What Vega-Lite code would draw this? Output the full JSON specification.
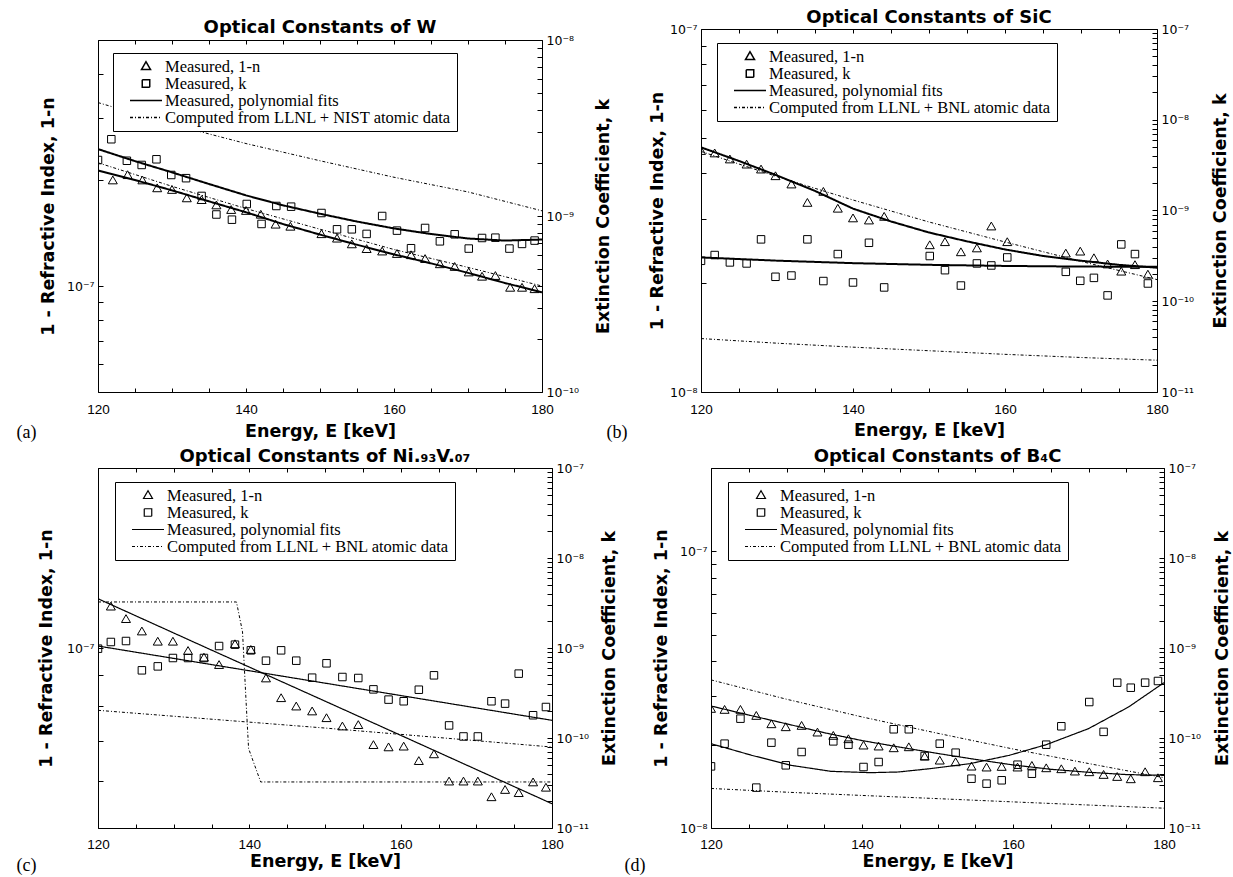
{
"$schema": "https://vega.github.io/schema/vega-lite/v6.json",
"autosize": "none",
"padding": {"left": 98, "top": 29, "right": 1135, "bottom": 848},
"background": "white",
"config": {
  "view": {"stroke": null},
  "font": "Liberation Sans",
  "axis": {"grid": false, "domainColor": "black", "domainWidth": 1, "tickColor": "black", "tickWidth": 1, "tickSize": -5, "labelColor": "black", "labelFont": "Liberation Sans", "labelFontSize": 13.5, "labelPadding": 9, "titleColor": "black", "titleFont": "DejaVu Sans", "titleFontSize": 17.5, "titleFontWeight": "bold", "labelFlush": false, "labelOverlap": false},
  "axisY": {"labelFont": "DejaVu Sans", "labelFontSize": 12.5},
  "title": {"font": "DejaVu Sans", "fontSize": 18, "fontWeight": "bold", "color": "black", "frame": "group", "anchor": "middle"}
},
"datasets": {
"W": [
{"E":122,"v":1.99e-7,"s":"p1","q":"n"},{"E":124,"v":2.06e-7,"s":"p1","q":"n"},{"E":126,"v":1.99e-7,"s":"p1","q":"n"},{"E":128,"v":1.89e-7,"s":"p1","q":"n"},{"E":130,"v":1.87e-7,"s":"p1","q":"n"},{"E":132,"v":1.77e-7,"s":"p1","q":"n"},{"E":134,"v":1.75e-7,"s":"p1","q":"n"},{"E":136,"v":1.69e-7,"s":"p1","q":"n"},{"E":138,"v":1.64e-7,"s":"p1","q":"n"},{"E":140,"v":1.63e-7,"s":"p1","q":"n"},{"E":142,"v":1.59e-7,"s":"p1","q":"n"},{"E":144,"v":1.49e-7,"s":"p1","q":"n"},{"E":146,"v":1.47e-7,"s":"p1","q":"n"},{"E":150.2,"v":1.40e-7,"s":"p1","q":"n"},{"E":152.3,"v":1.36e-7,"s":"p1","q":"n"},{"E":154.3,"v":1.31e-7,"s":"p1","q":"n"},{"E":156.3,"v":1.27e-7,"s":"p1","q":"n"},{"E":158.4,"v":1.25e-7,"s":"p1","q":"n"},{"E":160.4,"v":1.23e-7,"s":"p1","q":"n"},{"E":162.3,"v":1.22e-7,"s":"p1","q":"n"},{"E":164.2,"v":1.19e-7,"s":"p1","q":"n"},{"E":166.2,"v":1.15e-7,"s":"p1","q":"n"},{"E":168.2,"v":1.13e-7,"s":"p1","q":"n"},{"E":170.1,"v":1.09e-7,"s":"p1","q":"n"},{"E":171.9,"v":1.06e-7,"s":"p1","q":"n"},{"E":173.7,"v":1.065e-7,"s":"p1","q":"n"},{"E":175.7,"v":9.86e-8,"s":"p1","q":"n"},{"E":177.3,"v":9.86e-8,"s":"p1","q":"n"},{"E":179,"v":9.77e-8,"s":"p1","q":"n"},
{"E":120,"v":2.08e-9,"s":"p2","q":"k"},{"E":121.8,"v":2.73e-9,"s":"p2","q":"k"},{"E":123.9,"v":2.06e-9,"s":"p2","q":"k"},{"E":125.9,"v":1.95e-9,"s":"p2","q":"k"},{"E":127.9,"v":2.10e-9,"s":"p2","q":"k"},{"E":129.9,"v":1.71e-9,"s":"p2","q":"k"},{"E":131.9,"v":1.64e-9,"s":"p2","q":"k"},{"E":134,"v":1.30e-9,"s":"p2","q":"k"},{"E":136,"v":1.02e-9,"s":"p2","q":"k"},{"E":138.1,"v":9.53e-10,"s":"p2","q":"k"},{"E":140.1,"v":1.17e-9,"s":"p2","q":"k"},{"E":142.1,"v":9.01e-10,"s":"p2","q":"k"},{"E":144.1,"v":1.14e-9,"s":"p2","q":"k"},{"E":146.1,"v":1.13e-9,"s":"p2","q":"k"},{"E":150.2,"v":1.04e-9,"s":"p2","q":"k"},{"E":152.3,"v":8.40e-10,"s":"p2","q":"k"},{"E":154.3,"v":8.40e-10,"s":"p2","q":"k"},{"E":156.3,"v":7.91e-10,"s":"p2","q":"k"},{"E":158.4,"v":1.00e-9,"s":"p2","q":"k"},{"E":160.4,"v":8.26e-10,"s":"p2","q":"k"},{"E":162.3,"v":6.56e-10,"s":"p2","q":"k"},{"E":164.2,"v":8.55e-10,"s":"p2","q":"k"},{"E":166.2,"v":7.18e-10,"s":"p2","q":"k"},{"E":168.2,"v":7.87e-10,"s":"p2","q":"k"},{"E":170.1,"v":6.53e-10,"s":"p2","q":"k"},{"E":171.9,"v":7.50e-10,"s":"p2","q":"k"},{"E":173.7,"v":7.53e-10,"s":"p2","q":"k"},{"E":175.6,"v":6.53e-10,"s":"p2","q":"k"},{"E":177.3,"v":6.94e-10,"s":"p2","q":"k"},{"E":179,"v":7.25e-10,"s":"p2","q":"k"},
{"E":120,"v":2.13e-7,"s":"f","q":"n"},{"E":125,"v":2.0e-7,"s":"f","q":"n"},{"E":130,"v":1.87e-7,"s":"f","q":"n"},{"E":135,"v":1.74e-7,"s":"f","q":"n"},{"E":140,"v":1.62e-7,"s":"f","q":"n"},{"E":145,"v":1.5e-7,"s":"f","q":"n"},{"E":150,"v":1.4e-7,"s":"f","q":"n"},{"E":155,"v":1.31e-7,"s":"f","q":"n"},{"E":160,"v":1.23e-7,"s":"f","q":"n"},{"E":165,"v":1.16e-7,"s":"f","q":"n"},{"E":170,"v":1.09e-7,"s":"f","q":"n"},{"E":175,"v":1.02e-7,"s":"f","q":"n"},{"E":180,"v":9.6e-8,"s":"f","q":"n"},
{"E":120,"v":2.24e-7,"s":"c","q":"n"},{"E":130,"v":1.92e-7,"s":"c","q":"n"},{"E":140,"v":1.66e-7,"s":"c","q":"n"},{"E":150,"v":1.45e-7,"s":"c","q":"n"},{"E":160,"v":1.27e-7,"s":"c","q":"n"},{"E":170,"v":1.13e-7,"s":"c","q":"n"},{"E":180,"v":1.0e-7,"s":"c","q":"n"},
{"E":120,"v":2.4e-9,"s":"f","q":"k"},{"E":125,"v":2.05e-9,"s":"f","q":"k"},{"E":130,"v":1.77e-9,"s":"f","q":"k"},{"E":135,"v":1.52e-9,"s":"f","q":"k"},{"E":140,"v":1.31e-9,"s":"f","q":"k"},{"E":145,"v":1.15e-9,"s":"f","q":"k"},{"E":150,"v":1.03e-9,"s":"f","q":"k"},{"E":155,"v":9.3e-10,"s":"f","q":"k"},{"E":160,"v":8.5e-10,"s":"f","q":"k"},{"E":165,"v":7.9e-10,"s":"f","q":"k"},{"E":170,"v":7.45e-10,"s":"f","q":"k"},{"E":175,"v":7.25e-10,"s":"f","q":"k"},{"E":180,"v":7.35e-10,"s":"f","q":"k"},
{"E":120,"v":4.41e-9,"s":"c","q":"k"},{"E":130,"v":3.32e-9,"s":"c","q":"k"},{"E":140,"v":2.58e-9,"s":"c","q":"k"},{"E":150,"v":2.06e-9,"s":"c","q":"k"},{"E":160,"v":1.66e-9,"s":"c","q":"k"},{"E":170,"v":1.37e-9,"s":"c","q":"k"},{"E":180,"v":1.07e-9,"s":"c","q":"k"}
],
"SiC": [
{"E":120,"v":4.60e-8,"s":"p1","q":"n"},{"E":121.8,"v":4.53e-8,"s":"p1","q":"n"},{"E":123.8,"v":4.36e-8,"s":"p1","q":"n"},{"E":126,"v":4.22e-8,"s":"p1","q":"n"},{"E":127.9,"v":4.09e-8,"s":"p1","q":"n"},{"E":129.8,"v":3.92e-8,"s":"p1","q":"n"},{"E":131.9,"v":3.72e-8,"s":"p1","q":"n"},{"E":134,"v":3.31e-8,"s":"p1","q":"n"},{"E":136.1,"v":3.55e-8,"s":"p1","q":"n"},{"E":138,"v":3.19e-8,"s":"p1","q":"n"},{"E":140,"v":3.00e-8,"s":"p1","q":"n"},{"E":142.1,"v":2.96e-8,"s":"p1","q":"n"},{"E":144.1,"v":3.03e-8,"s":"p1","q":"n"},{"E":150.1,"v":2.53e-8,"s":"p1","q":"n"},{"E":152.1,"v":2.58e-8,"s":"p1","q":"n"},{"E":154.2,"v":2.42e-8,"s":"p1","q":"n"},{"E":156.3,"v":2.48e-8,"s":"p1","q":"n"},{"E":158.2,"v":2.85e-8,"s":"p1","q":"n"},{"E":160.3,"v":2.58e-8,"s":"p1","q":"n"},{"E":168,"v":2.40e-8,"s":"p1","q":"n"},{"E":169.9,"v":2.43e-8,"s":"p1","q":"n"},{"E":171.7,"v":2.33e-8,"s":"p1","q":"n"},{"E":173.5,"v":2.24e-8,"s":"p1","q":"n"},{"E":175.3,"v":2.14e-8,"s":"p1","q":"n"},{"E":177.1,"v":2.23e-8,"s":"p1","q":"n"},{"E":178.8,"v":2.10e-8,"s":"p1","q":"n"},
{"E":120,"v":2.79e-10,"s":"p2","q":"k"},{"E":121.8,"v":3.23e-10,"s":"p2","q":"k"},{"E":123.8,"v":2.68e-10,"s":"p2","q":"k"},{"E":126,"v":2.61e-10,"s":"p2","q":"k"},{"E":127.9,"v":4.81e-10,"s":"p2","q":"k"},{"E":129.8,"v":1.86e-10,"s":"p2","q":"k"},{"E":131.9,"v":1.92e-10,"s":"p2","q":"k"},{"E":134,"v":4.81e-10,"s":"p2","q":"k"},{"E":136.1,"v":1.67e-10,"s":"p2","q":"k"},{"E":138,"v":3.31e-10,"s":"p2","q":"k"},{"E":140,"v":1.61e-10,"s":"p2","q":"k"},{"E":142.1,"v":4.41e-10,"s":"p2","q":"k"},{"E":144.1,"v":1.42e-10,"s":"p2","q":"k"},{"E":150.1,"v":3.15e-10,"s":"p2","q":"k"},{"E":152.1,"v":2.20e-10,"s":"p2","q":"k"},{"E":154.2,"v":1.49e-10,"s":"p2","q":"k"},{"E":156.3,"v":2.61e-10,"s":"p2","q":"k"},{"E":158.2,"v":2.48e-10,"s":"p2","q":"k"},{"E":160.3,"v":3.04e-10,"s":"p2","q":"k"},{"E":168,"v":2.11e-10,"s":"p2","q":"k"},{"E":169.9,"v":1.68e-10,"s":"p2","q":"k"},{"E":171.7,"v":1.81e-10,"s":"p2","q":"k"},{"E":173.5,"v":1.16e-10,"s":"p2","q":"k"},{"E":175.3,"v":4.23e-10,"s":"p2","q":"k"},{"E":177.1,"v":3.31e-10,"s":"p2","q":"k"},{"E":178.8,"v":1.57e-10,"s":"p2","q":"k"},
{"E":120,"v":4.72e-8,"s":"f","q":"n"},{"E":125,"v":4.33e-8,"s":"f","q":"n"},{"E":130,"v":3.95e-8,"s":"f","q":"n"},{"E":135,"v":3.58e-8,"s":"f","q":"n"},{"E":140,"v":3.2e-8,"s":"f","q":"n"},{"E":145,"v":2.95e-8,"s":"f","q":"n"},{"E":150,"v":2.75e-8,"s":"f","q":"n"},{"E":155,"v":2.6e-8,"s":"f","q":"n"},{"E":160,"v":2.47e-8,"s":"f","q":"n"},{"E":165,"v":2.37e-8,"s":"f","q":"n"},{"E":170,"v":2.3e-8,"s":"f","q":"n"},{"E":175,"v":2.24e-8,"s":"f","q":"n"},{"E":180,"v":2.2e-8,"s":"f","q":"n"},
{"E":120,"v":4.6e-8,"s":"c","q":"n"},{"E":130,"v":3.92e-8,"s":"c","q":"n"},{"E":140,"v":3.38e-8,"s":"c","q":"n"},{"E":150,"v":2.94e-8,"s":"c","q":"n"},{"E":160,"v":2.59e-8,"s":"c","q":"n"},{"E":170,"v":2.29e-8,"s":"c","q":"n"},{"E":180,"v":2.04e-8,"s":"c","q":"n"},
{"E":120,"v":3.04e-10,"s":"f","q":"k"},{"E":130,"v":2.8e-10,"s":"f","q":"k"},{"E":140,"v":2.63e-10,"s":"f","q":"k"},{"E":150,"v":2.52e-10,"s":"f","q":"k"},{"E":160,"v":2.45e-10,"s":"f","q":"k"},{"E":170,"v":2.41e-10,"s":"f","q":"k"},{"E":180,"v":2.4e-10,"s":"f","q":"k"},
{"E":120,"v":3.88e-11,"s":"c","q":"k"},{"E":130,"v":3.45e-11,"s":"c","q":"k"},{"E":140,"v":3.12e-11,"s":"c","q":"k"},{"E":150,"v":2.85e-11,"s":"c","q":"k"},{"E":160,"v":2.6e-11,"s":"c","q":"k"},{"E":170,"v":2.4e-11,"s":"c","q":"k"},{"E":180,"v":2.24e-11,"s":"c","q":"k"}
],
"NiV": [
{"E":121.7,"v":1.171e-7,"s":"p1","q":"n"},{"E":123.7,"v":1.116e-7,"s":"p1","q":"n"},{"E":125.8,"v":1.064e-7,"s":"p1","q":"n"},{"E":127.9,"v":1.023e-7,"s":"p1","q":"n"},{"E":129.9,"v":1.023e-7,"s":"p1","q":"n"},{"E":131.9,"v":9.87e-8,"s":"p1","q":"n"},{"E":134,"v":9.62e-8,"s":"p1","q":"n"},{"E":136,"v":9.35e-8,"s":"p1","q":"n"},{"E":138.1,"v":1.013e-7,"s":"p1","q":"n"},{"E":140.2,"v":9.91e-8,"s":"p1","q":"n"},{"E":142.2,"v":8.88e-8,"s":"p1","q":"n"},{"E":144.2,"v":8.23e-8,"s":"p1","q":"n"},{"E":146.2,"v":7.97e-8,"s":"p1","q":"n"},{"E":148.3,"v":7.82e-8,"s":"p1","q":"n"},{"E":150.2,"v":7.62e-8,"s":"p1","q":"n"},{"E":152.3,"v":7.38e-8,"s":"p1","q":"n"},{"E":154.4,"v":7.42e-8,"s":"p1","q":"n"},{"E":156.4,"v":6.87e-8,"s":"p1","q":"n"},{"E":158.4,"v":6.81e-8,"s":"p1","q":"n"},{"E":160.4,"v":6.83e-8,"s":"p1","q":"n"},{"E":162.4,"v":6.46e-8,"s":"p1","q":"n"},{"E":164.4,"v":6.63e-8,"s":"p1","q":"n"},{"E":166.4,"v":5.97e-8,"s":"p1","q":"n"},{"E":168.3,"v":5.97e-8,"s":"p1","q":"n"},{"E":170.2,"v":5.97e-8,"s":"p1","q":"n"},{"E":172,"v":5.62e-8,"s":"p1","q":"n"},{"E":173.8,"v":5.78e-8,"s":"p1","q":"n"},{"E":175.6,"v":5.71e-8,"s":"p1","q":"n"},{"E":177.5,"v":5.95e-8,"s":"p1","q":"n"},{"E":179.2,"v":5.83e-8,"s":"p1","q":"n"},
{"E":120,"v":9.83e-10,"s":"p2","q":"k"},{"E":121.7,"v":1.166e-9,"s":"p2","q":"k"},{"E":123.7,"v":1.196e-9,"s":"p2","q":"k"},{"E":125.8,"v":5.65e-10,"s":"p2","q":"k"},{"E":127.9,"v":6.25e-10,"s":"p2","q":"k"},{"E":129.9,"v":7.74e-10,"s":"p2","q":"k"},{"E":131.9,"v":7.74e-10,"s":"p2","q":"k"},{"E":134,"v":7.74e-10,"s":"p2","q":"k"},{"E":136,"v":1.052e-9,"s":"p2","q":"k"},{"E":138.1,"v":1.089e-9,"s":"p2","q":"k"},{"E":140.2,"v":9.42e-10,"s":"p2","q":"k"},{"E":142.2,"v":7.23e-10,"s":"p2","q":"k"},{"E":144.2,"v":9.42e-10,"s":"p2","q":"k"},{"E":146.2,"v":7.23e-10,"s":"p2","q":"k"},{"E":148.3,"v":4.68e-10,"s":"p2","q":"k"},{"E":150.2,"v":6.76e-10,"s":"p2","q":"k"},{"E":152.3,"v":4.76e-10,"s":"p2","q":"k"},{"E":154.4,"v":4.64e-10,"s":"p2","q":"k"},{"E":156.4,"v":3.47e-10,"s":"p2","q":"k"},{"E":158.4,"v":2.67e-10,"s":"p2","q":"k"},{"E":160.4,"v":2.56e-10,"s":"p2","q":"k"},{"E":162.4,"v":3.44e-10,"s":"p2","q":"k"},{"E":164.4,"v":4.97e-10,"s":"p2","q":"k"},{"E":166.4,"v":1.38e-10,"s":"p2","q":"k"},{"E":168.3,"v":1.04e-10,"s":"p2","q":"k"},{"E":170.2,"v":1.04e-10,"s":"p2","q":"k"},{"E":172,"v":2.56e-10,"s":"p2","q":"k"},{"E":173.8,"v":2.41e-10,"s":"p2","q":"k"},{"E":175.6,"v":5.19e-10,"s":"p2","q":"k"},{"E":177.5,"v":1.79e-10,"s":"p2","q":"k"},{"E":179.2,"v":2.21e-10,"s":"p2","q":"k"},
{"E":120,"v":1.209e-7,"s":"f","q":"n"},{"E":135,"v":9.92e-8,"s":"f","q":"n"},{"E":150,"v":8.15e-8,"s":"f","q":"n"},{"E":165,"v":6.69e-8,"s":"f","q":"n"},{"E":180,"v":5.49e-8,"s":"f","q":"n"},
{"E":120,"v":1.194e-7,"s":"c","q":"n"},{"E":138.3,"v":1.194e-7,"s":"c","q":"n"},{"E":139.1,"v":1.064e-7,"s":"c","q":"n"},{"E":139.6,"v":8.0e-8,"s":"c","q":"n"},{"E":139.9,"v":6.79e-8,"s":"c","q":"n"},{"E":141.5,"v":5.97e-8,"s":"c","q":"n"},{"E":180,"v":5.97e-8,"s":"c","q":"n"},
{"E":120,"v":1.052e-9,"s":"f","q":"k"},{"E":150,"v":4.07e-10,"s":"f","q":"k"},{"E":180,"v":1.572e-10,"s":"f","q":"k"},
{"E":120,"v":2.03e-10,"s":"c","q":"k"},{"E":150,"v":1.29e-10,"s":"c","q":"k"},{"E":180,"v":7.94e-11,"s":"c","q":"k"}
],
"B4C": [
{"E":120,"v":2.685e-8,"s":"p1","q":"n"},{"E":121.8,"v":2.663e-8,"s":"p1","q":"n"},{"E":123.9,"v":2.663e-8,"s":"p1","q":"n"},{"E":126,"v":2.533e-8,"s":"p1","q":"n"},{"E":128,"v":2.363e-8,"s":"p1","q":"n"},{"E":129.9,"v":2.305e-8,"s":"p1","q":"n"},{"E":132,"v":2.331e-8,"s":"p1","q":"n"},{"E":134.1,"v":2.205e-8,"s":"p1","q":"n"},{"E":136.2,"v":2.145e-8,"s":"p1","q":"n"},{"E":138.2,"v":2.086e-8,"s":"p1","q":"n"},{"E":140.2,"v":1.979e-8,"s":"p1","q":"n"},{"E":142.2,"v":1.963e-8,"s":"p1","q":"n"},{"E":144.2,"v":1.935e-8,"s":"p1","q":"n"},{"E":146.2,"v":1.951e-8,"s":"p1","q":"n"},{"E":148.3,"v":1.805e-8,"s":"p1","q":"n"},{"E":150.3,"v":1.746e-8,"s":"p1","q":"n"},{"E":152.4,"v":1.722e-8,"s":"p1","q":"n"},{"E":154.5,"v":1.661e-8,"s":"p1","q":"n"},{"E":156.5,"v":1.648e-8,"s":"p1","q":"n"},{"E":158.5,"v":1.657e-8,"s":"p1","q":"n"},{"E":160.6,"v":1.648e-8,"s":"p1","q":"n"},{"E":162.5,"v":1.671e-8,"s":"p1","q":"n"},{"E":164.4,"v":1.638e-8,"s":"p1","q":"n"},{"E":166.4,"v":1.625e-8,"s":"p1","q":"n"},{"E":168.2,"v":1.594e-8,"s":"p1","q":"n"},{"E":170.1,"v":1.585e-8,"s":"p1","q":"n"},{"E":172,"v":1.550e-8,"s":"p1","q":"n"},{"E":173.8,"v":1.524e-8,"s":"p1","q":"n"},{"E":175.6,"v":1.495e-8,"s":"p1","q":"n"},{"E":177.5,"v":1.585e-8,"s":"p1","q":"n"},{"E":179.2,"v":1.508e-8,"s":"p1","q":"n"},
{"E":120,"v":4.84e-11,"s":"p2","q":"k"},{"E":121.8,"v":8.65e-11,"s":"p2","q":"k"},{"E":123.9,"v":1.64e-10,"s":"p2","q":"k"},{"E":126,"v":2.81e-11,"s":"p2","q":"k"},{"E":128,"v":8.88e-11,"s":"p2","q":"k"},{"E":129.9,"v":4.97e-11,"s":"p2","q":"k"},{"E":132,"v":6.99e-11,"s":"p2","q":"k"},{"E":136.2,"v":9.18e-11,"s":"p2","q":"k"},{"E":138.2,"v":8.43e-11,"s":"p2","q":"k"},{"E":140.2,"v":4.76e-11,"s":"p2","q":"k"},{"E":142.2,"v":5.41e-11,"s":"p2","q":"k"},{"E":144.2,"v":1.25e-10,"s":"p2","q":"k"},{"E":146.2,"v":1.25e-10,"s":"p2","q":"k"},{"E":148.3,"v":6.31e-11,"s":"p2","q":"k"},{"E":150.3,"v":8.65e-11,"s":"p2","q":"k"},{"E":152.4,"v":6.87e-11,"s":"p2","q":"k"},{"E":154.5,"v":3.53e-11,"s":"p2","q":"k"},{"E":156.5,"v":3.11e-11,"s":"p2","q":"k"},{"E":158.5,"v":3.39e-11,"s":"p2","q":"k"},{"E":160.6,"v":5.05e-11,"s":"p2","q":"k"},{"E":162.5,"v":4.01e-11,"s":"p2","q":"k"},{"E":164.4,"v":8.43e-11,"s":"p2","q":"k"},{"E":166.4,"v":1.35e-10,"s":"p2","q":"k"},{"E":170.1,"v":2.51e-10,"s":"p2","q":"k"},{"E":172,"v":1.17e-10,"s":"p2","q":"k"},{"E":173.8,"v":4.12e-10,"s":"p2","q":"k"},{"E":175.6,"v":3.62e-10,"s":"p2","q":"k"},{"E":177.5,"v":4.12e-10,"s":"p2","q":"k"},{"E":179.2,"v":4.30e-10,"s":"p2","q":"k"},
{"E":120,"v":2.76e-8,"s":"f","q":"n"},{"E":125,"v":2.56e-8,"s":"f","q":"n"},{"E":130,"v":2.38e-8,"s":"f","q":"n"},{"E":135,"v":2.21e-8,"s":"f","q":"n"},{"E":140,"v":2.07e-8,"s":"f","q":"n"},{"E":145,"v":1.96e-8,"s":"f","q":"n"},{"E":150,"v":1.86e-8,"s":"f","q":"n"},{"E":155,"v":1.77e-8,"s":"f","q":"n"},{"E":160,"v":1.69e-8,"s":"f","q":"n"},{"E":165,"v":1.63e-8,"s":"f","q":"n"},{"E":170,"v":1.59e-8,"s":"f","q":"n"},{"E":175,"v":1.56e-8,"s":"f","q":"n"},{"E":180,"v":1.55e-8,"s":"f","q":"n"},
{"E":120,"v":3.43e-8,"s":"c","q":"n"},{"E":130,"v":2.92e-8,"s":"c","q":"n"},{"E":140,"v":2.52e-8,"s":"c","q":"n"},{"E":150,"v":2.2e-8,"s":"c","q":"n"},{"E":160,"v":1.93e-8,"s":"c","q":"n"},{"E":170,"v":1.71e-8,"s":"c","q":"n"},{"E":180,"v":1.52e-8,"s":"c","q":"n"},
{"E":120,"v":8.65e-11,"s":"f","q":"k"},{"E":125.4,"v":6.42e-11,"s":"f","q":"k"},{"E":130.6,"v":4.97e-11,"s":"f","q":"k"},{"E":135.9,"v":4.26e-11,"s":"f","q":"k"},{"E":141.1,"v":4.12e-11,"s":"f","q":"k"},{"E":144.8,"v":4.19e-11,"s":"f","q":"k"},{"E":149,"v":4.56e-11,"s":"f","q":"k"},{"E":154.3,"v":5.19e-11,"s":"f","q":"k"},{"E":159.5,"v":6.42e-11,"s":"f","q":"k"},{"E":164.4,"v":8.43e-11,"s":"f","q":"k"},{"E":170,"v":1.27e-10,"s":"f","q":"k"},{"E":175.3,"v":2.21e-10,"s":"f","q":"k"},{"E":180,"v":4.12e-10,"s":"f","q":"k"},
{"E":120,"v":2.75e-11,"s":"c","q":"k"},{"E":130,"v":2.5e-11,"s":"c","q":"k"},{"E":140,"v":2.3e-11,"s":"c","q":"k"},{"E":150,"v":2.12e-11,"s":"c","q":"k"},{"E":160,"v":1.95e-11,"s":"c","q":"k"},{"E":170,"v":1.8e-11,"s":"c","q":"k"},{"E":180,"v":1.66e-11,"s":"c","q":"k"}
]
},
"bounds": "flush",
"spacing": 439,
"resolve": {"scale": {"shape": "independent", "strokeDash": "independent"}, "legend": {"shape": "independent", "strokeDash": "independent"}},
"vconcat": [
{"hconcat": [
{
 "width": 444, "height": 363,
 "data": {"name": "W"},
 "title": {"text": "Optical Constants of W", "offset": -8, "frame": "group"},
 "resolve": {"scale": {"y": "independent"}, "axis": {"x": "independent"}},
 "layer": [
  {"transform": [{"filter": "datum.q == 'n'"}],
   "encoding": {
    "x": {"field": "E", "type": "quantitative", "scale": {"domain": [120, 180], "nice": false, "zero": false}, "axis": {"orient": "bottom", "values": [120,125,130,135,140,145,150,155,160,165,170,175,180], "labelExpr": "datum.value % 20 == 0 ? datum.label : ''", "tickSize": -4, "labelPadding": 14, "title": "Energy, E [keV]", "titleY": 44, "titleBaseline": "alphabetic"}},
    "y": {"field": "v", "type": "quantitative", "scale": {"type": "log", "domain": [5e-8, 5e-7], "range": [363, 11], "nice": false}, "axis": {"orient": "left", "values": [5e-8,6e-8,7e-8,8e-8,9e-8,1e-7,2e-7,3e-7,4e-7,5e-7], "labelExpr": "datum.value == 1e-7 ? '10\u207b\u2077' : datum.value == 1e-8 ? '10\u207b\u2078' : datum.value == 1e-9 ? '10\u207b\u2079' : datum.value == 1e-10 ? '10\u207b\u00b9\u2070' : datum.value == 1e-11 ? '10\u207b\u00b9\u00b9' : ''", "title": "1 - Refractive Index, 1-n", "titleX": -50, "titleAngle": 270, "titleBaseline": "middle"}}
   },
   "layer": [
    {"transform": [{"filter": "datum.s == 'p1'"}], "mark": {"type": "point", "filled": false, "size": 225, "color": "black", "strokeWidth": 1, "opacity": 1, "clip": true},
     "encoding": {"shape": {"field": "s", "type": "nominal", "scale": {"domain": ["p1","p2","f","c"], "range": ["M0,-0.64L0.6,0.4L-0.6,0.4Z", "M-0.5,-0.5H0.5V0.5H-0.5Z", "M-2.133,0H2.133", "M-2.133,0H2.133"]},
      "legend": {"orient": "none", "legendX": 15, "legendY": 24, "title": null, "strokeColor": "black", "fillColor": "white", "padding": 5, "symbolOffset": 19.5, "labelOffset": 10.5, "symbolSize": 225, "symbolStrokeWidth": 1.5, "symbolStrokeColor": "black", "symbolFillColor": "transparent", "labelFont": "Liberation Serif", "labelFontSize": 16.5, "labelColor": "black", "rowPadding": -0.5, "labelLimit": 500, "labelExpr": "datum.label == 'p1' ? 'Measured, 1-n' : datum.label == 'p2' ? 'Measured, k' : datum.label == 'f' ? 'Measured, polynomial fits' : 'Computed from LLNL + NIST atomic data'"}}}},
    {"transform": [{"filter": "datum.s == 'f'"}], "mark": {"type": "line", "color": "black", "strokeWidth": 2, "clip": true},
     "encoding": {"strokeDash": {"field": "s", "type": "nominal", "scale": {"domain": ["p1","p2","f","c"], "range": [[1,0],[1,0],[1,0],[3,2,1,2]]},
      "legend": {"orient": "none", "legendX": 15, "legendY": 24, "title": null, "strokeColor": "black", "fillColor": "white", "padding": 5, "symbolOffset": 19.5, "labelOffset": 10.5, "symbolSize": 225, "symbolStrokeWidth": 1.5, "symbolStrokeColor": "black", "symbolFillColor": "transparent", "labelFont": "Liberation Serif", "labelFontSize": 16.5, "labelColor": "black", "rowPadding": -0.5, "labelLimit": 500, "labelExpr": "datum.label == 'p1' ? 'Measured, 1-n' : datum.label == 'p2' ? 'Measured, k' : datum.label == 'f' ? 'Measured, polynomial fits' : 'Computed from LLNL + NIST atomic data'"}}}},
    {"transform": [{"filter": "datum.s == 'c'"}], "mark": {"type": "line", "color": "black", "strokeWidth": 1, "clip": true},
     "encoding": {"strokeDash": {"field": "s", "type": "nominal", "scale": {"domain": ["p1","p2","f","c"], "range": [[1,0],[1,0],[1,0],[3,2,1,2]]}}}}
   ]
  },
  {"transform": [{"filter": "datum.q == 'k'"}],
   "encoding": {
    "x": {"field": "E", "type": "quantitative", "scale": {"domain": [120, 180], "nice": false, "zero": false}, "axis": {"orient": "top", "values": [120,125,130,135,140,145,150,155,160,165,170,175,180], "labels": false, "tickSize": -4, "offset": -11, "title": "(a)", "titleX": -82, "titleY": 397, "titleAlign": "left", "titleAnchor": "start", "titleBaseline": "alphabetic", "titleFont": "Liberation Serif", "titleFontWeight": "normal", "titleFontSize": 18}},
    "y": {"field": "v", "type": "quantitative", "scale": {"type": "log", "domain": [1e-10, 1e-8], "range": [363, 11], "nice": false}, "axis": {"orient": "right", "values": [1e-10,2e-10,3e-10,4e-10,5e-10,6e-10,7e-10,8e-10,9e-10,1e-9,2e-9,3e-9,4e-9,5e-9,6e-9,7e-9,8e-9,9e-9,1e-8], "labelExpr": "datum.value == 1e-7 ? '10\u207b\u2077' : datum.value == 1e-8 ? '10\u207b\u2078' : datum.value == 1e-9 ? '10\u207b\u2079' : datum.value == 1e-10 ? '10\u207b\u00b9\u2070' : datum.value == 1e-11 ? '10\u207b\u00b9\u00b9' : ''", "title": "Extinction Coefficient, k", "titleX": 61, "titleAngle": 270, "titleBaseline": "middle"}}
   },
   "layer": [
    {"transform": [{"filter": "datum.s == 'p2'"}], "mark": {"type": "point", "filled": false, "size": 225, "color": "black", "strokeWidth": 1, "opacity": 1, "clip": true},
     "encoding": {"shape": {"field": "s", "type": "nominal", "scale": {"domain": ["p1","p2","f","c"], "range": ["M0,-0.64L0.6,0.4L-0.6,0.4Z", "M-0.5,-0.5H0.5V0.5H-0.5Z", "M-2.133,0H2.133", "M-2.133,0H2.133"]}}}},
    {"transform": [{"filter": "datum.s == 'f'"}], "mark": {"type": "line", "color": "black", "strokeWidth": 2, "clip": true},
     "encoding": {"strokeDash": {"field": "s", "type": "nominal", "scale": {"domain": ["p1","p2","f","c"], "range": [[1,0],[1,0],[1,0],[3,2,1,2]]}}}},
    {"transform": [{"filter": "datum.s == 'c'"}], "mark": {"type": "line", "color": "black", "strokeWidth": 1, "clip": true},
     "encoding": {"strokeDash": {"field": "s", "type": "nominal", "scale": {"domain": ["p1","p2","f","c"], "range": [[1,0],[1,0],[1,0],[3,2,1,2]]}}}}
   ]
  }
 ]
},
{
 "width": 456, "height": 363,
 "data": {"name": "SiC"},
 "title": {"text": "Optical Constants of SiC", "offset": -4, "frame": "group"},
 "resolve": {"scale": {"y": "independent"}, "axis": {"x": "independent"}},
 "layer": [
  {"transform": [{"filter": "datum.q == 'n'"}],
   "encoding": {
    "x": {"field": "E", "type": "quantitative", "scale": {"domain": [120, 180], "nice": false, "zero": false}, "axis": {"orient": "bottom", "values": [120,125,130,135,140,145,150,155,160,165,170,175,180], "labelExpr": "datum.value % 20 == 0 ? datum.label : ''", "tickSize": -4, "labelPadding": 14, "title": "Energy, E [keV]", "titleY": 43, "titleBaseline": "alphabetic"}},
    "y": {"field": "v", "type": "quantitative", "scale": {"type": "log", "domain": [1e-8, 1e-7], "nice": false}, "axis": {"orient": "left", "values": [1e-8,2e-8,3e-8,4e-8,5e-8,6e-8,7e-8,8e-8,9e-8,1e-7], "labelExpr": "datum.value == 1e-7 ? '10\u207b\u2077' : datum.value == 1e-8 ? '10\u207b\u2078' : datum.value == 1e-9 ? '10\u207b\u2079' : datum.value == 1e-10 ? '10\u207b\u00b9\u2070' : datum.value == 1e-11 ? '10\u207b\u00b9\u00b9' : ''", "title": "1 - Refractive Index, 1-n", "titleX": -44, "titleAngle": 270, "titleBaseline": "middle"}}
   },
   "layer": [
    {"transform": [{"filter": "datum.s == 'p1'"}], "mark": {"type": "point", "filled": false, "size": 225, "color": "black", "strokeWidth": 1, "opacity": 1, "clip": true},
     "encoding": {"shape": {"field": "s", "type": "nominal", "scale": {"domain": ["p1","p2","f","c"], "range": ["M0,-0.64L0.6,0.4L-0.6,0.4Z", "M-0.5,-0.5H0.5V0.5H-0.5Z", "M-2.133,0H2.133", "M-2.133,0H2.133"]},
      "legend": {"orient": "none", "legendX": 16, "legendY": 14, "title": null, "strokeColor": "black", "fillColor": "white", "padding": 5, "symbolOffset": 19.5, "labelOffset": 10.5, "symbolSize": 225, "symbolStrokeWidth": 1.5, "symbolStrokeColor": "black", "symbolFillColor": "transparent", "labelFont": "Liberation Serif", "labelFontSize": 16.5, "labelColor": "black", "rowPadding": -0.5, "labelLimit": 500, "labelExpr": "datum.label == 'p1' ? 'Measured, 1-n' : datum.label == 'p2' ? 'Measured, k' : datum.label == 'f' ? 'Measured, polynomial fits' : 'Computed from LLNL + BNL atomic data'"}}}},
    {"transform": [{"filter": "datum.s == 'f'"}], "mark": {"type": "line", "color": "black", "strokeWidth": 2, "clip": true},
     "encoding": {"strokeDash": {"field": "s", "type": "nominal", "scale": {"domain": ["p1","p2","f","c"], "range": [[1,0],[1,0],[1,0],[3,2,1,2]]},
      "legend": {"orient": "none", "legendX": 16, "legendY": 14, "title": null, "strokeColor": "black", "fillColor": "white", "padding": 5, "symbolOffset": 19.5, "labelOffset": 10.5, "symbolSize": 225, "symbolStrokeWidth": 1.5, "symbolStrokeColor": "black", "symbolFillColor": "transparent", "labelFont": "Liberation Serif", "labelFontSize": 16.5, "labelColor": "black", "rowPadding": -0.5, "labelLimit": 500, "labelExpr": "datum.label == 'p1' ? 'Measured, 1-n' : datum.label == 'p2' ? 'Measured, k' : datum.label == 'f' ? 'Measured, polynomial fits' : 'Computed from LLNL + BNL atomic data'"}}}},
    {"transform": [{"filter": "datum.s == 'c'"}], "mark": {"type": "line", "color": "black", "strokeWidth": 1, "clip": true},
     "encoding": {"strokeDash": {"field": "s", "type": "nominal", "scale": {"domain": ["p1","p2","f","c"], "range": [[1,0],[1,0],[1,0],[3,2,1,2]]}}}}
   ]
  },
  {"transform": [{"filter": "datum.q == 'k'"}],
   "encoding": {
    "x": {"field": "E", "type": "quantitative", "scale": {"domain": [120, 180], "nice": false, "zero": false}, "axis": {"orient": "top", "values": [120,125,130,135,140,145,150,155,160,165,170,175,180], "labels": false, "tickSize": -4, "title": "(b)", "titleX": -95, "titleY": 408, "titleAlign": "left", "titleAnchor": "start", "titleBaseline": "alphabetic", "titleFont": "Liberation Serif", "titleFontWeight": "normal", "titleFontSize": 18}},
    "y": {"field": "v", "type": "quantitative", "scale": {"type": "log", "domain": [1e-11, 1e-7], "nice": false}, "axis": {"orient": "right", "values": [1e-11,2e-11,3e-11,4e-11,5e-11,6e-11,7e-11,8e-11,9e-11,1e-10,2e-10,3e-10,4e-10,5e-10,6e-10,7e-10,8e-10,9e-10,1e-9,2e-9,3e-9,4e-9,5e-9,6e-9,7e-9,8e-9,9e-9,1e-8,2e-8,3e-8,4e-8,5e-8,6e-8,7e-8,8e-8,9e-8,1e-7], "labelExpr": "datum.value == 1e-7 ? '10\u207b\u2077' : datum.value == 1e-8 ? '10\u207b\u2078' : datum.value == 1e-9 ? '10\u207b\u2079' : datum.value == 1e-10 ? '10\u207b\u00b9\u2070' : datum.value == 1e-11 ? '10\u207b\u00b9\u00b9' : ''", "title": "Extinction Coefficient, k", "titleX": 63, "titleAngle": 270, "titleBaseline": "middle"}}
   },
   "layer": [
    {"transform": [{"filter": "datum.s == 'p2'"}], "mark": {"type": "point", "filled": false, "size": 225, "color": "black", "strokeWidth": 1, "opacity": 1, "clip": true},
     "encoding": {"shape": {"field": "s", "type": "nominal", "scale": {"domain": ["p1","p2","f","c"], "range": ["M0,-0.64L0.6,0.4L-0.6,0.4Z", "M-0.5,-0.5H0.5V0.5H-0.5Z", "M-2.133,0H2.133", "M-2.133,0H2.133"]}}}},
    {"transform": [{"filter": "datum.s == 'f'"}], "mark": {"type": "line", "color": "black", "strokeWidth": 2, "clip": true},
     "encoding": {"strokeDash": {"field": "s", "type": "nominal", "scale": {"domain": ["p1","p2","f","c"], "range": [[1,0],[1,0],[1,0],[3,2,1,2]]}}}},
    {"transform": [{"filter": "datum.s == 'c'"}], "mark": {"type": "line", "color": "black", "strokeWidth": 1, "clip": true},
     "encoding": {"strokeDash": {"field": "s", "type": "nominal", "scale": {"domain": ["p1","p2","f","c"], "range": [[1,0],[1,0],[1,0],[3,2,1,2]]}}}}
   ]
  }
 ]
}
], "spacing": 159, "bounds": "flush", "resolve": {"scale": {"shape": "independent", "strokeDash": "independent"}, "legend": {"shape": "independent", "strokeDash": "independent"}}},
{"hconcat": [
{
 "width": 454, "height": 360,
 "data": {"name": "NiV"},
 "title": {"text": "Optical Constants of Ni.\u2089\u2083V.\u2080\u2087", "offset": -4, "frame": "group"},
 "resolve": {"scale": {"y": "independent"}, "axis": {"x": "independent"}},
 "layer": [
  {"transform": [{"filter": "datum.q == 'n'"}],
   "encoding": {
    "x": {"field": "E", "type": "quantitative", "scale": {"domain": [120, 180], "nice": false, "zero": false}, "axis": {"orient": "bottom", "values": [120,125,130,135,140,145,150,155,160,165,170,175,180], "labelExpr": "datum.value % 20 == 0 ? datum.label : ''", "tickSize": -4, "labelPadding": 13, "title": "Energy, E [keV]", "titleY": 38, "titleBaseline": "alphabetic"}},
    "y": {"field": "v", "type": "quantitative", "scale": {"type": "log", "domain": [5e-8, 2e-7], "nice": false}, "axis": {"orient": "left", "values": [5e-8,6e-8,7e-8,8e-8,9e-8,1e-7,2e-7], "labelExpr": "datum.value == 1e-7 ? '10\u207b\u2077' : datum.value == 1e-8 ? '10\u207b\u2078' : datum.value == 1e-9 ? '10\u207b\u2079' : datum.value == 1e-10 ? '10\u207b\u00b9\u2070' : datum.value == 1e-11 ? '10\u207b\u00b9\u00b9' : ''", "title": "1 - Refractive Index, 1-n", "titleX": -52, "titleAngle": 270, "titleBaseline": "middle"}}
   },
   "layer": [
    {"transform": [{"filter": "datum.s == 'p1'"}], "mark": {"type": "point", "filled": false, "size": 225, "color": "black", "strokeWidth": 1, "opacity": 1, "clip": true},
     "encoding": {"shape": {"field": "s", "type": "nominal", "scale": {"domain": ["p1","p2","f","c"], "range": ["M0,-0.64L0.6,0.4L-0.6,0.4Z", "M-0.5,-0.5H0.5V0.5H-0.5Z", "M-2.133,0H2.133", "M-2.133,0H2.133"]},
      "legend": {"orient": "none", "legendX": 17, "legendY": 14, "title": null, "strokeColor": "black", "fillColor": "white", "padding": 5, "symbolOffset": 19.5, "labelOffset": 10.5, "symbolSize": 225, "symbolStrokeWidth": 1.2, "symbolStrokeColor": "black", "symbolFillColor": "transparent", "labelFont": "Liberation Serif", "labelFontSize": 16.5, "labelColor": "black", "rowPadding": -0.5, "labelLimit": 500, "labelExpr": "datum.label == 'p1' ? 'Measured, 1-n' : datum.label == 'p2' ? 'Measured, k' : datum.label == 'f' ? 'Measured, polynomial fits' : 'Computed from LLNL + BNL atomic data'"}}}},
    {"transform": [{"filter": "datum.s == 'f'"}], "mark": {"type": "line", "color": "black", "strokeWidth": 1.2, "clip": true},
     "encoding": {"strokeDash": {"field": "s", "type": "nominal", "scale": {"domain": ["p1","p2","f","c"], "range": [[1,0],[1,0],[1,0],[3,2,1,2]]},
      "legend": {"orient": "none", "legendX": 17, "legendY": 14, "title": null, "strokeColor": "black", "fillColor": "white", "padding": 5, "symbolOffset": 19.5, "labelOffset": 10.5, "symbolSize": 225, "symbolStrokeWidth": 1.2, "symbolStrokeColor": "black", "symbolFillColor": "transparent", "labelFont": "Liberation Serif", "labelFontSize": 16.5, "labelColor": "black", "rowPadding": -0.5, "labelLimit": 500, "labelExpr": "datum.label == 'p1' ? 'Measured, 1-n' : datum.label == 'p2' ? 'Measured, k' : datum.label == 'f' ? 'Measured, polynomial fits' : 'Computed from LLNL + BNL atomic data'"}}}},
    {"transform": [{"filter": "datum.s == 'c'"}], "mark": {"type": "line", "color": "black", "strokeWidth": 1, "clip": true},
     "encoding": {"strokeDash": {"field": "s", "type": "nominal", "scale": {"domain": ["p1","p2","f","c"], "range": [[1,0],[1,0],[1,0],[3,2,1,2]]}}}}
   ]
  },
  {"transform": [{"filter": "datum.q == 'k'"}],
   "encoding": {
    "x": {"field": "E", "type": "quantitative", "scale": {"domain": [120, 180], "nice": false, "zero": false}, "axis": {"orient": "top", "values": [120,125,130,135,140,145,150,155,160,165,170,175,180], "labels": false, "tickSize": -4, "title": "(c)", "titleX": -82, "titleY": 402, "titleAlign": "left", "titleAnchor": "start", "titleBaseline": "alphabetic", "titleFont": "Liberation Serif", "titleFontWeight": "normal", "titleFontSize": 18}},
    "y": {"field": "v", "type": "quantitative", "scale": {"type": "log", "domain": [1e-11, 1e-7], "nice": false}, "axis": {"orient": "right", "values": [1e-11,2e-11,3e-11,4e-11,5e-11,6e-11,7e-11,8e-11,9e-11,1e-10,2e-10,3e-10,4e-10,5e-10,6e-10,7e-10,8e-10,9e-10,1e-9,2e-9,3e-9,4e-9,5e-9,6e-9,7e-9,8e-9,9e-9,1e-8,2e-8,3e-8,4e-8,5e-8,6e-8,7e-8,8e-8,9e-8,1e-7], "labelExpr": "datum.value == 1e-7 ? '10\u207b\u2077' : datum.value == 1e-8 ? '10\u207b\u2078' : datum.value == 1e-9 ? '10\u207b\u2079' : datum.value == 1e-10 ? '10\u207b\u00b9\u2070' : datum.value == 1e-11 ? '10\u207b\u00b9\u00b9' : ''", "title": "Extinction Coefficient, k", "titleX": 57, "titleAngle": 270, "titleBaseline": "middle"}}
   },
   "layer": [
    {"transform": [{"filter": "datum.s == 'p2'"}], "mark": {"type": "point", "filled": false, "size": 225, "color": "black", "strokeWidth": 1, "opacity": 1, "clip": true},
     "encoding": {"shape": {"field": "s", "type": "nominal", "scale": {"domain": ["p1","p2","f","c"], "range": ["M0,-0.64L0.6,0.4L-0.6,0.4Z", "M-0.5,-0.5H0.5V0.5H-0.5Z", "M-2.133,0H2.133", "M-2.133,0H2.133"]}}}},
    {"transform": [{"filter": "datum.s == 'f'"}], "mark": {"type": "line", "color": "black", "strokeWidth": 1.2, "clip": true},
     "encoding": {"strokeDash": {"field": "s", "type": "nominal", "scale": {"domain": ["p1","p2","f","c"], "range": [[1,0],[1,0],[1,0],[3,2,1,2]]}}}},
    {"transform": [{"filter": "datum.s == 'c'"}], "mark": {"type": "line", "color": "black", "strokeWidth": 1, "clip": true},
     "encoding": {"strokeDash": {"field": "s", "type": "nominal", "scale": {"domain": ["p1","p2","f","c"], "range": [[1,0],[1,0],[1,0],[3,2,1,2]]}}}}
   ]
  }
 ]
},
{
 "width": 453, "height": 360,
 "data": {"name": "B4C"},
 "title": {"text": "Optical Constants of B\u2084C", "offset": -4, "frame": "group"},
 "resolve": {"scale": {"y": "independent"}, "axis": {"x": "independent"}},
 "layer": [
  {"transform": [{"filter": "datum.q == 'n'"}],
   "encoding": {
    "x": {"field": "E", "type": "quantitative", "scale": {"domain": [120, 180], "nice": false, "zero": false}, "axis": {"orient": "bottom", "values": [120,125,130,135,140,145,150,155,160,165,170,175,180], "labelExpr": "datum.value % 20 == 0 ? datum.label : ''", "tickSize": -4, "labelPadding": 13, "title": "Energy, E [keV]", "titleY": 38, "titleBaseline": "alphabetic"}},
    "y": {"field": "v", "type": "quantitative", "scale": {"type": "log", "domain": [1e-8, 2e-7], "nice": false}, "axis": {"orient": "left", "values": [1e-8,2e-8,3e-8,4e-8,5e-8,6e-8,7e-8,8e-8,9e-8,1e-7,2e-7], "labelExpr": "datum.value == 1e-7 ? '10\u207b\u2077' : datum.value == 1e-8 ? '10\u207b\u2078' : datum.value == 1e-9 ? '10\u207b\u2079' : datum.value == 1e-10 ? '10\u207b\u00b9\u2070' : datum.value == 1e-11 ? '10\u207b\u00b9\u00b9' : ''", "title": "1 - Refractive Index, 1-n", "titleX": -50, "titleAngle": 270, "titleBaseline": "middle"}}
   },
   "layer": [
    {"transform": [{"filter": "datum.s == 'p1'"}], "mark": {"type": "point", "filled": false, "size": 225, "color": "black", "strokeWidth": 1, "opacity": 1, "clip": true},
     "encoding": {"shape": {"field": "s", "type": "nominal", "scale": {"domain": ["p1","p2","f","c"], "range": ["M0,-0.64L0.6,0.4L-0.6,0.4Z", "M-0.5,-0.5H0.5V0.5H-0.5Z", "M-2.133,0H2.133", "M-2.133,0H2.133"]},
      "legend": {"orient": "none", "legendX": 17, "legendY": 14, "title": null, "strokeColor": "black", "fillColor": "white", "padding": 5, "symbolOffset": 19.5, "labelOffset": 10.5, "symbolSize": 225, "symbolStrokeWidth": 1.2, "symbolStrokeColor": "black", "symbolFillColor": "transparent", "labelFont": "Liberation Serif", "labelFontSize": 16.5, "labelColor": "black", "rowPadding": -0.5, "labelLimit": 500, "labelExpr": "datum.label == 'p1' ? 'Measured, 1-n' : datum.label == 'p2' ? 'Measured, k' : datum.label == 'f' ? 'Measured, polynomial fits' : 'Computed from LLNL + BNL atomic data'"}}}},
    {"transform": [{"filter": "datum.s == 'f'"}], "mark": {"type": "line", "color": "black", "strokeWidth": 1.2, "clip": true},
     "encoding": {"strokeDash": {"field": "s", "type": "nominal", "scale": {"domain": ["p1","p2","f","c"], "range": [[1,0],[1,0],[1,0],[3,2,1,2]]},
      "legend": {"orient": "none", "legendX": 17, "legendY": 14, "title": null, "strokeColor": "black", "fillColor": "white", "padding": 5, "symbolOffset": 19.5, "labelOffset": 10.5, "symbolSize": 225, "symbolStrokeWidth": 1.2, "symbolStrokeColor": "black", "symbolFillColor": "transparent", "labelFont": "Liberation Serif", "labelFontSize": 16.5, "labelColor": "black", "rowPadding": -0.5, "labelLimit": 500, "labelExpr": "datum.label == 'p1' ? 'Measured, 1-n' : datum.label == 'p2' ? 'Measured, k' : datum.label == 'f' ? 'Measured, polynomial fits' : 'Computed from LLNL + BNL atomic data'"}}}},
    {"transform": [{"filter": "datum.s == 'c'"}], "mark": {"type": "line", "color": "black", "strokeWidth": 1, "clip": true},
     "encoding": {"strokeDash": {"field": "s", "type": "nominal", "scale": {"domain": ["p1","p2","f","c"], "range": [[1,0],[1,0],[1,0],[3,2,1,2]]}}}}
   ]
  },
  {"transform": [{"filter": "datum.q == 'k'"}],
   "encoding": {
    "x": {"field": "E", "type": "quantitative", "scale": {"domain": [120, 180], "nice": false, "zero": false}, "axis": {"orient": "top", "values": [120,125,130,135,140,145,150,155,160,165,170,175,180], "labels": false, "tickSize": -4, "title": "(d)", "titleX": -87, "titleY": 402, "titleAlign": "left", "titleAnchor": "start", "titleBaseline": "alphabetic", "titleFont": "Liberation Serif", "titleFontWeight": "normal", "titleFontSize": 18}},
    "y": {"field": "v", "type": "quantitative", "scale": {"type": "log", "domain": [1e-11, 1e-7], "nice": false}, "axis": {"orient": "right", "values": [1e-11,2e-11,3e-11,4e-11,5e-11,6e-11,7e-11,8e-11,9e-11,1e-10,2e-10,3e-10,4e-10,5e-10,6e-10,7e-10,8e-10,9e-10,1e-9,2e-9,3e-9,4e-9,5e-9,6e-9,7e-9,8e-9,9e-9,1e-8,2e-8,3e-8,4e-8,5e-8,6e-8,7e-8,8e-8,9e-8,1e-7], "labelExpr": "datum.value == 1e-7 ? '10\u207b\u2077' : datum.value == 1e-8 ? '10\u207b\u2078' : datum.value == 1e-9 ? '10\u207b\u2079' : datum.value == 1e-10 ? '10\u207b\u00b9\u2070' : datum.value == 1e-11 ? '10\u207b\u00b9\u00b9' : ''", "title": "Extinction Coefficient, k", "titleX": 58, "titleAngle": 270, "titleBaseline": "middle"}}
   },
   "layer": [
    {"transform": [{"filter": "datum.s == 'p2'"}], "mark": {"type": "point", "filled": false, "size": 225, "color": "black", "strokeWidth": 1, "opacity": 1, "clip": true},
     "encoding": {"shape": {"field": "s", "type": "nominal", "scale": {"domain": ["p1","p2","f","c"], "range": ["M0,-0.64L0.6,0.4L-0.6,0.4Z", "M-0.5,-0.5H0.5V0.5H-0.5Z", "M-2.133,0H2.133", "M-2.133,0H2.133"]}}}},
    {"transform": [{"filter": "datum.s == 'f'"}], "mark": {"type": "line", "color": "black", "strokeWidth": 1.2, "clip": true},
     "encoding": {"strokeDash": {"field": "s", "type": "nominal", "scale": {"domain": ["p1","p2","f","c"], "range": [[1,0],[1,0],[1,0],[3,2,1,2]]}}}},
    {"transform": [{"filter": "datum.s == 'c'"}], "mark": {"type": "line", "color": "black", "strokeWidth": 1, "clip": true},
     "encoding": {"strokeDash": {"field": "s", "type": "nominal", "scale": {"domain": ["p1","p2","f","c"], "range": [[1,0],[1,0],[1,0],[3,2,1,2]]}}}}
   ]
  }
 ]
}
], "spacing": 159, "bounds": "flush", "resolve": {"scale": {"shape": "independent", "strokeDash": "independent"}, "legend": {"shape": "independent", "strokeDash": "independent"}}}
]
}
